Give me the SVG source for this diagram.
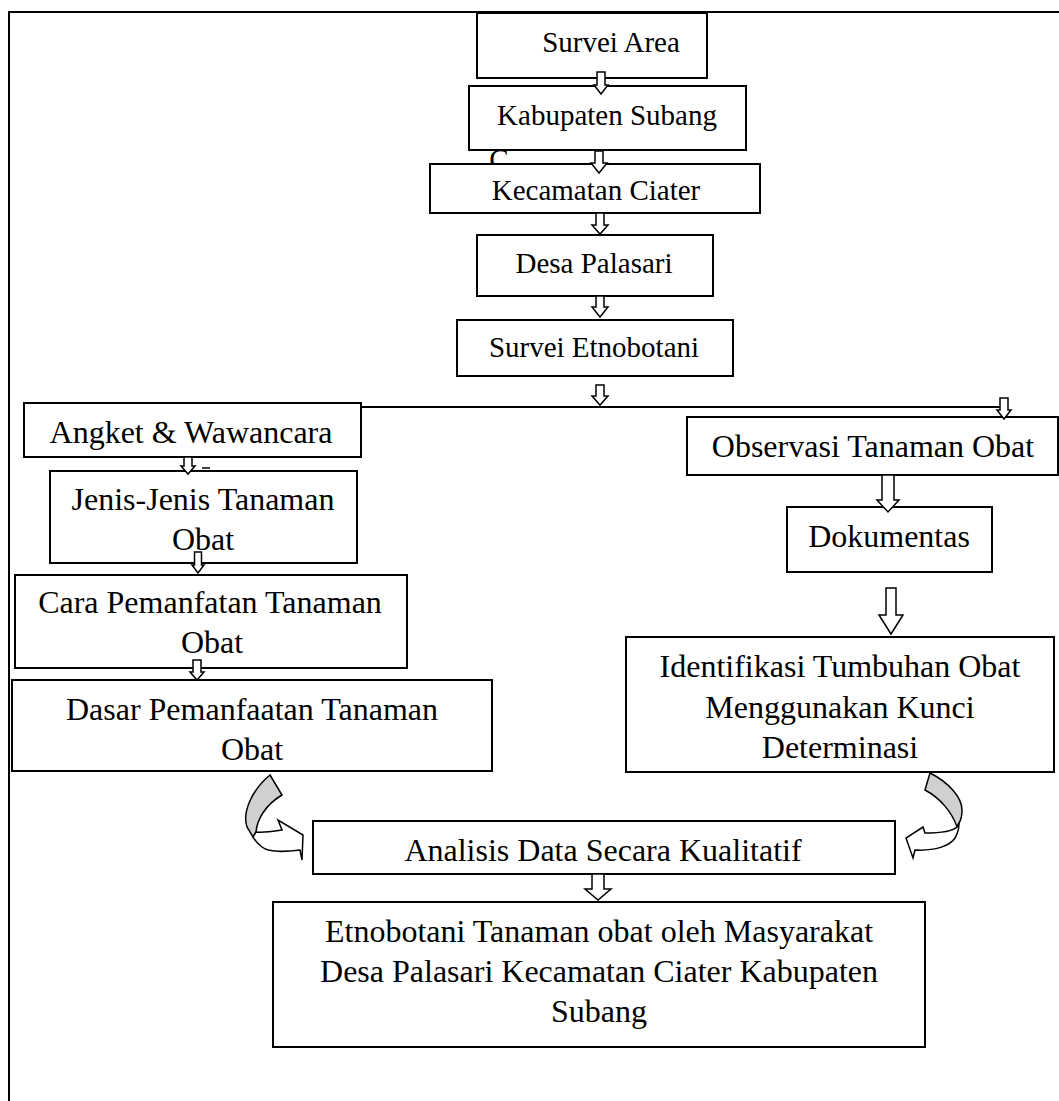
<svg xmlns="http://www.w3.org/2000/svg" width="1059" height="1101" viewBox="0 0 1059 1101">
<style>
.box{fill:#fff;stroke:#000;stroke-width:2}
.t{font-family:"Liberation Serif","Times New Roman",serif;fill:#000;text-anchor:middle}
.s29{font-size:29px}
.s32{font-size:32px}
.arr{fill:#fff;stroke:#000;stroke-width:1.5;stroke-linejoin:miter}
.gray{fill:#d0d0d0;stroke:#000;stroke-width:1.5}
.line{stroke:#000;stroke-width:2;fill:none}
</style>
<rect width="1059" height="1101" fill="#fff"/>
<g id="frame">
<path class="line" d="M9,1101 V12 H1059" stroke-width="2.5"/>
</g>
<g id="node-survei-area">
<rect class="box" x="477" y="13" width="230" height="65"/>
<text class="t s29" x="611" y="52">Survei Area</text>
</g>
<g id="node-kabupaten">
<rect class="box" x="469" y="86" width="277" height="64"/>
<text class="t s29" x="607" y="125">Kabupaten Subang</text>
</g>
<g id="artifact-c">
<text class="t s29" x="499" y="169">C</text>
</g>
<g id="node-kecamatan">
<rect class="box" x="430" y="164" width="330" height="49"/>
<text class="t s29" x="596" y="200">Kecamatan Ciater</text>
</g>
<g id="node-desa">
<rect class="box" x="477" y="235" width="236" height="61"/>
<text class="t s29" x="594" y="273">Desa Palasari</text>
</g>
<g id="node-survei-etno">
<rect class="box" x="457" y="320" width="276" height="56"/>
<text class="t s29" x="594" y="357">Survei Etnobotani</text>
</g>
<g id="node-angket">
<rect class="box" x="24" y="403" width="337" height="54"/>
<text class="t s32" x="191" y="443">Angket &amp; Wawancara</text>
</g>
<g id="node-jenis">
<rect class="box" x="50" y="471" width="307" height="92"/>
<text class="t s32" x="203" y="510">Jenis-Jenis Tanaman</text>
<text class="t s32" x="203" y="550">Obat</text>
</g>
<g id="node-cara">
<rect class="box" x="15" y="575" width="392" height="93"/>
<text class="t s32" x="210" y="613">Cara Pemanfatan Tanaman</text>
<text class="t s32" x="212" y="653">Obat</text>
</g>
<g id="node-dasar">
<rect class="box" x="12" y="680" width="480" height="91"/>
<text class="t s32" x="252" y="720">Dasar Pemanfaatan Tanaman</text>
<text class="t s32" x="252" y="760">Obat</text>
</g>
<g id="node-observasi">
<rect class="box" x="687" y="417" width="371" height="58"/>
<text class="t s32" x="873" y="457">Observasi Tanaman Obat</text>
</g>
<g id="node-dokumentas">
<rect class="box" x="787" y="507" width="205" height="65"/>
<text class="t s32" x="889" y="547">Dokumentas</text>
</g>
<g id="node-identifikasi">
<rect class="box" x="626" y="637" width="428" height="135"/>
<text class="t s32" x="840" y="677">Identifikasi Tumbuhan Obat</text>
<text class="t s32" x="840" y="718">Menggunakan Kunci</text>
<text class="t s32" x="840" y="758">Determinasi</text>
</g>
<g id="node-analisis">
<rect class="box" x="313" y="821" width="582" height="53"/>
<text class="t s32" x="603" y="861">Analisis Data Secara Kualitatif</text>
</g>
<g id="node-final">
<rect class="box" x="273" y="902" width="652" height="145"/>
<text class="t s32" x="599" y="942">Etnobotani Tanaman obat oleh Masyarakat</text>
<text class="t s32" x="599" y="982">Desa Palasari Kecamatan Ciater Kabupaten</text>
<text class="t s32" x="599" y="1022">Subang</text>
</g>
<g id="connectors">
<path class="line" d="M361,407 H1004"/>
<line x1="202" y1="468" x2="210" y2="468" stroke="#000" stroke-width="1.5"/>
<polygon class="arr" points="597,72 605,72 605,85 608,85 601,94 594,85 597,85"/>
<polygon class="arr" points="595,151 603,151 603,163 607,163 599,173 591,163 595,163"/>
<polygon class="arr" points="596,213 604,213 604,225 608,225 600,234 592,225 596,225"/>
<polygon class="arr" points="596,296 604,296 604,307 608,307 600,317 592,307 596,307"/>
<polygon class="arr" points="596,385 604,385 604,396 608,396 600,405 592,396 596,396"/>
<polygon class="arr" points="1000,398 1008,398 1008,410 1011,410 1004,419 997,410 1000,410"/>
<polygon class="arr" points="184,457 192,457 192,466 195,466 188,474 181,466 184,466"/>
<polygon class="arr" points="194.5,552 201.5,552 201.5,565 204,565 198,573 192,565 194.5,565"/>
<polygon class="arr" points="193,660 201,660 201,672 204,672 197,680 190,672 193,672"/>
<polygon class="arr" points="882,475 894,475 894,500 899,500 888,512 877,500 882,500"/>
<polygon class="arr" points="886,588 896,588 896,615 903,615 891,634 879,615 886,615"/>
<polygon class="arr" points="592,874 604,874 604,889 611,889 598,900 585,889 592,889"/>
<path class="gray" d="M270,775 C252,790 242,812 247,827 L253,837 L256,832 C257,820 265,805 282,795 Z"/>
<path class="arr" d="M256,832 C265,833 275,831 282,830 L278,820 L303,835 L302,860 L300,850 C285,852 268,852 262,847 C258,844 255,841 253,837 Z"/>
<path class="gray" d="M930,773 C948,782 962,797 962,810 C962,816 961,820 959,823 L957,827 C952,812 940,798 925,790 Z"/>
<path class="arr" d="M957,827 C953,831 945,833 925,833 L923,827 L906,838 L913,858 L915,850 C935,851 950,846 955,838 C958,833 959,828 959,823 Z"/>
</g>
</svg>
